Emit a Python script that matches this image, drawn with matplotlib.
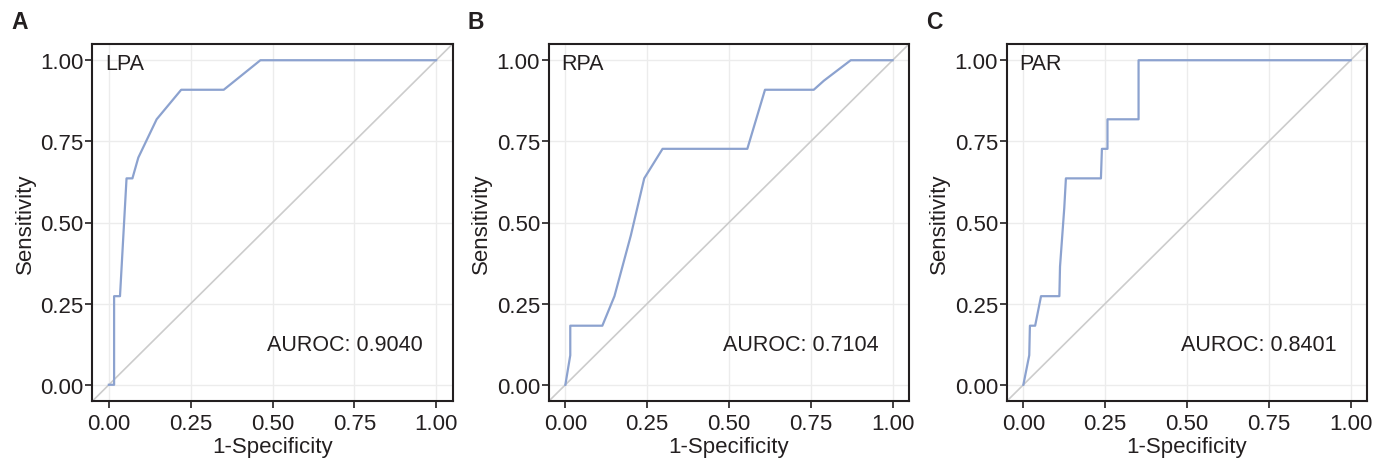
import matplotlib
matplotlib.use("Agg")
import matplotlib.pyplot as plt

# ---- data ----
panel_letters = ["A", "B", "C"]
panel_names = ["LPA", "RPA", "PAR"]
auroc_labels = ["AUROC: 0.9040", "AUROC: 0.7104", "AUROC: 0.8401"]

lpa_fpr = [0.0, 0.016, 0.016, 0.034, 0.054, 0.072, 0.09, 0.146, 0.221, 0.351, 0.463, 1.0]
lpa_tpr = [0.0, 0.0, 0.273, 0.273, 0.636, 0.636, 0.70, 0.818, 0.909, 0.909, 1.0, 1.0]

rpa_fpr = [0.0, 0.015, 0.015, 0.113, 0.15, 0.20, 0.241, 0.297, 0.556, 0.610, 0.759, 0.79, 0.872, 1.0]
rpa_tpr = [0.0, 0.091, 0.182, 0.182, 0.273, 0.46, 0.636, 0.727, 0.727, 0.909, 0.909, 0.937, 1.0, 1.0]

par_fpr = [0.0, 0.018, 0.020, 0.036, 0.054, 0.110, 0.112, 0.125, 0.130, 0.237, 0.240, 0.257, 0.257, 0.352, 0.352, 1.0]
par_tpr = [0.0, 0.091, 0.182, 0.182, 0.273, 0.273, 0.364, 0.545, 0.636, 0.636, 0.727, 0.727, 0.818, 0.818, 1.0, 1.0]

fprs = [lpa_fpr, rpa_fpr, par_fpr]
tprs = [lpa_tpr, rpa_tpr, par_tpr]

ticks = [0.0, 0.25, 0.5, 0.75, 1.0]
tick_labels = ["0.00", "0.25", "0.50", "0.75", "1.00"]

plt.rcParams['font.family'] = ['Liberation Sans', 'DejaVu Sans']

fig = plt.figure(figsize=(13.76, 4.6), dpi=100)
lefts = [92.5, 549, 1007]
W, H = 1376, 460
ax_w = 360
top, bottom = 45, 402

line_color = '#8ca2cf'
for i in range(3):
    ax = fig.add_axes([lefts[i] / W, 1 - bottom / H, ax_w / W, (bottom - top) / H])
    ax.set_xlim(-0.05, 1.05)
    ax.set_ylim(-0.05, 1.05)
    ax.plot([-0.05, 1.05], [-0.05, 1.05], color='#cccccc', lw=1.2, zorder=2)
    ax.plot(fprs[i], tprs[i], color=line_color, lw=1.6, zorder=3)
    ax.set_xticks(ticks)
    ax.set_xticklabels(tick_labels)
    ax.set_yticks(ticks)
    ax.set_yticklabels(tick_labels)
    ax.grid(True, color='#ececec', lw=1.0, zorder=0)
    ax.set_axisbelow(True)
    for s in ax.spines.values():
        s.set_linewidth(1.5)
        s.set_color('#231f20')
    ax.tick_params(direction='out', length=5, width=1.2, color='#231f20',
                   labelsize=16, labelcolor='#231f20')
    ax.tick_params(axis='x', pad=4)
    ax.tick_params(axis='y', pad=1.5)
    ax.set_xlabel('1-Specificity', fontsize=16, color='#231f20', labelpad=1)
    ax.set_ylabel('Sensitivity', fontsize=16, color='#231f20', labelpad=3)
    ax.text(-0.012, 0.99, panel_names[i], fontsize=15.5, color='#231f20',
            ha='left', va='center')
    ax.text(0.72, 0.125, auroc_labels[i], fontsize=15.5, color='#231f20',
            ha='center', va='center')
    fig.text((lefts[i] - 73) / W, 1 - 22.5 / H, panel_letters[i], fontsize=16.5,
             fontweight='bold', color='#231f20', ha='center', va='center')

fig.savefig('out.png', dpi=100)
